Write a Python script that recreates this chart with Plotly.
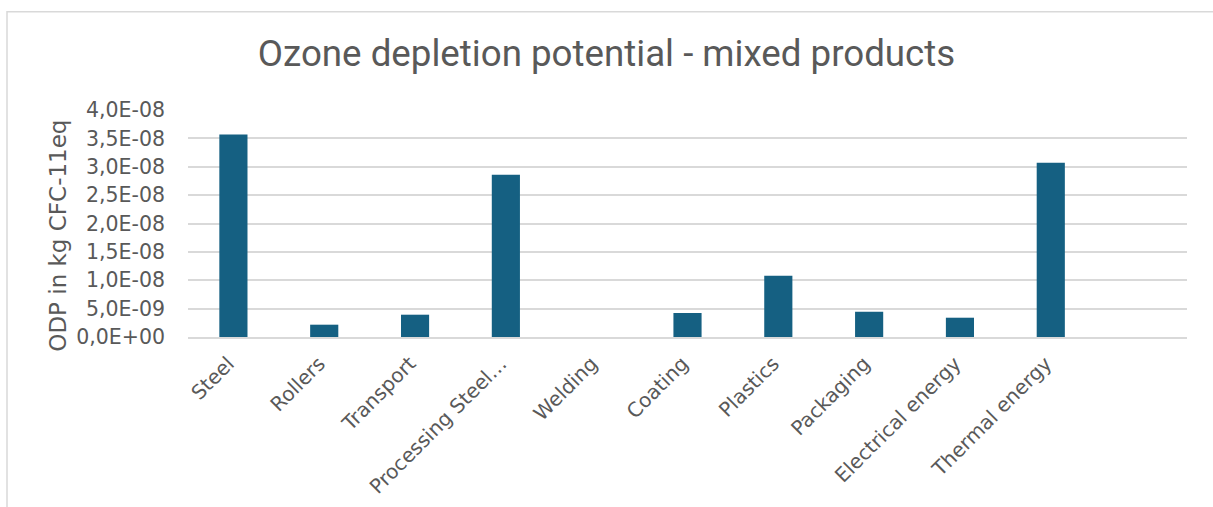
import plotly.graph_objects as go

# Ozone depletion potential per process step (kg CFC-11 eq)
categories = ["Steel", "Rollers", "Transport", "Processing Steel…", "Welding",
              "Coating", "Plastics", "Packaging", "Electrical energy",
              "Thermal energy", " "]
odp_values = [3.57e-8, 2.17e-9, 3.93e-9, 2.86e-8, 0.0,
              4.23e-9, 1.08e-8, 4.45e-9, 3.40e-9, 3.07e-8, None]

y_tick_values = [0, 5e-9, 1e-8, 1.5e-8, 2e-8, 2.5e-8, 3e-8, 3.5e-8, 4e-8]
y_tick_labels = ["0,0E+00", "5,0E-09", "1,0E-08", "1,5E-08", "2,0E-08",
                 "2,5E-08", "3,0E-08", "3,5E-08", "4,0E-08"]

W, H = 1213, 507
L, R, T, B = 188, 26, 110, 169.5
TEXT = "#595959"
GRID = "#d9d9d9"
TITLE_FONT = "Roboto"
LABEL_FONT = "DejaVu Sans"

fig = go.Figure(go.Bar(
    x=categories,
    y=odp_values,
    marker=dict(color="#156082", line=dict(width=0)),
    hoverinfo="x+y",
))

fig.update_layout(
    width=W, height=H,
    margin=dict(l=L, r=R, t=T, b=B),
    paper_bgcolor="white",
    plot_bgcolor="white",
    bargap=0.69,
    showlegend=False,
    font=dict(family=LABEL_FONT, color=TEXT),
    title=dict(
        text="Ozone depletion potential - mixed products",
        x=0.5, xanchor="center",
        y=1 - 53 / H, yanchor="middle",
        font=dict(size=36.7, color=TEXT, family=TITLE_FONT),
    ),
    xaxis=dict(
        type="category",
        range=[-0.5, 10.5],
        automargin=False,
        tickangle=-45,
        tickfont=dict(size=20, color=TEXT, family=LABEL_FONT),
        ticklabelshift=-5,
        ticklabelstandoff=5,
        showgrid=False,
        showline=True, linecolor=GRID, linewidth=2,
        ticks="", zeroline=False,
    ),
    yaxis=dict(
        range=[0, 4e-8],
        automargin=False,
        tickvals=y_tick_values,
        ticktext=y_tick_labels,
        tickfont=dict(size=20.5, color=TEXT, family=LABEL_FONT),
        showgrid=True, gridcolor=GRID, gridwidth=1.5,
        zeroline=False, showline=False,
        ticks="", ticklabelstandoff=22,
    ),
    annotations=[dict(
        text="ODP in kg CFC-11eq",
        xref="paper", yref="paper",
        x=(58 - L) / (W - L - R), y=(H - B - 236) / (H - T - B),
        xanchor="center", yanchor="middle",
        textangle=-90, showarrow=False,
        font=dict(size=23, color=TEXT, family=LABEL_FONT),
    )],
    shapes=[dict(
        type="rect", xref="paper", yref="paper",
        x0=(7 - L) / (W - L - R), x1=(W + 20 - L) / (W - L - R),
        y0=(H - B - (H + 20)) / (H - T - B), y1=(H - B - 11.5) / (H - T - B),
        line=dict(color=GRID, width=1.5), layer="below",
    )],
)

fig.write_html("out.html")
